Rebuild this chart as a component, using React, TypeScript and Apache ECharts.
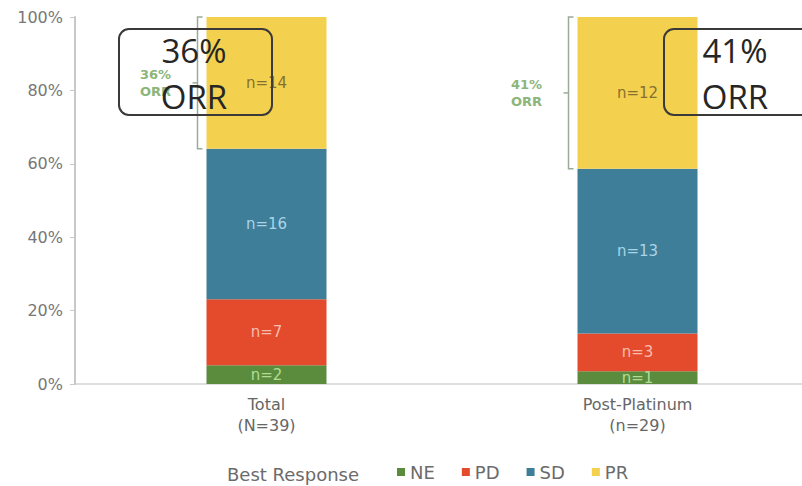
import React, { useEffect, useRef } from "react";
import * as echarts from "echarts";

// Best response counts per cohort
const categories = ["Total", "Post-Platinum"];
const cohortSizeLabels = ["(N=39)", "(n=29)"];
const responses = ["NE", "PD", "SD", "PR"];
const neCounts = [2, 1];
const pdCounts = [7, 3];
const sdCounts = [16, 13];
const prCounts = [14, 12];
const yMin = 0;
const yMax = 100;
const yInterval = 20;

const colors: Record<string, string> = {
  NE: "#5b8c3e",
  PD: "#e34b2c",
  SD: "#3e7e98",
  PR: "#f3d04e",
};
const labelColors: Record<string, string> = {
  NE: "#b2dc95",
  PD: "#f7bcae",
  SD: "#a9d3e6",
  PR: "#85702e",
};

const countsByResponse: Record<string, number[]> = {
  NE: neCounts,
  PD: pdCounts,
  SD: sdCounts,
  PR: prCounts,
};

const totals = categories.map(
  (_, i) => neCounts[i] + pdCounts[i] + sdCounts[i] + prCounts[i]
);

const FONT = "DejaVu Sans";
const BAR_WIDTH = 120;

export default function App() {
  const ref = useRef<HTMLDivElement>(null);

  useEffect(() => {
    if (!ref.current) return;
    const chart = echarts.init(ref.current, undefined, { renderer: "svg" });

    const series = responses.map((r) => ({
      name: r,
      type: "bar",
      stack: "resp",
      barWidth: BAR_WIDTH,
      itemStyle: { color: colors[r] },
      label: {
        show: true,
        position: "inside",
        fontFamily: FONT,
        fontSize: 15,
        color: labelColors[r],
        formatter: (p: any) => `n=${countsByResponse[r][p.dataIndex]}`,
      },
      data: countsByResponse[r].map((c, i) => (c / totals[i]) * 100),
    }));

    chart.setOption({
      animation: false,
      grid: {
        left: 81,
        right: -21,
        top: 17,
        bottom: 102,
        containLabel: false,
        outerBoundsMode: "none",
      },
      legend: {
        data: responses,
        icon: "rect",
        itemWidth: 8,
        itemHeight: 8,
        itemGap: 27,
        left: 397,
        top: 463,
        padding: 0,
        textStyle: { fontFamily: FONT, fontSize: 18, color: "#6b6b6b" },
      },
      xAxis: {
        type: "category",
        data: categories,
        axisTick: { show: false },
        axisLine: { lineStyle: { color: "#dedede", width: 2 } },
        axisLabel: {
          fontFamily: FONT,
          fontSize: 16,
          color: "#666",
          lineHeight: 21,
          margin: 10,
          formatter: (v: string, i: number) => `${v}\n${cohortSizeLabels[i]}`,
        },
      },
      yAxis: {
        type: "value",
        min: yMin,
        max: yMax,
        interval: yInterval,
        offset: 6,
        splitLine: { show: false },
        axisLine: { show: true, lineStyle: { color: "#c8c8c8", width: 2 } },
        axisTick: { show: true, length: 5, lineStyle: { color: "#c8c8c8" } },
        axisLabel: {
          fontFamily: FONT,
          fontSize: 16,
          color: "#777",
          margin: 12,
          formatter: "{value}%",
        },
      },
      series,
    });

    // ORR brackets spanning the PR segment of each bar
    const graphics: any[] = [];
    categories.forEach((_, i) => {
      const orr = Math.round((prCounts[i] / totals[i]) * 100);
      const below = ((neCounts[i] + pdCounts[i] + sdCounts[i]) / totals[i]) * 100;
      const top = chart.convertToPixel({ xAxisIndex: 0, yAxisIndex: 0 }, [i, 100]);
      const bottom = chart.convertToPixel({ xAxisIndex: 0, yAxisIndex: 0 }, [i, below]);
      const bx = top[0] - BAR_WIDTH / 2 - 9;
      const mid = (top[1] + bottom[1]) / 2;
      graphics.push({
        type: "polyline",
        z: 50,
        shape: {
          points: [
            [bx + 5, top[1]],
            [bx, top[1]],
            [bx, bottom[1]],
            [bx + 5, bottom[1]],
          ],
        },
        style: { stroke: "#9aab98", lineWidth: 1.5, fill: null },
      });
      graphics.push({
        type: "line",
        z: 50,
        shape: { x1: bx, y1: mid, x2: bx - 5, y2: mid },
        style: { stroke: "#9aab98", lineWidth: 1.5 },
      });
      graphics.push({
        type: "text",
        z: 50,
        x: bx - 42,
        y: mid,
        style: {
          text: `${orr}%\nORR`,
          fontFamily: FONT,
          fontSize: 13,
          fontWeight: "bold",
          lineHeight: 17,
          fill: "#8db57a",
          align: "center",
          verticalAlign: "middle",
        },
      });
    });

    // short stretch of baseline between the y axis and the grid edge
    const origin = chart.convertToPixel({ yAxisIndex: 0 }, 0) as unknown as number;
    graphics.push({
      type: "line",
      shape: { x1: 75, y1: origin, x2: 82, y2: origin },
      style: { stroke: "#dedede", lineWidth: 2 },
    });

    // Callout boxes with the ORR figures
    const boxes = [
      { x: 119, w: 153, cx: 194 },
      { x: 664, w: 160, cx: 735 },
    ];
    boxes.forEach((b, i) => {
      const orr = Math.round((prCounts[i] / totals[i]) * 100);
      graphics.push({
        type: "rect",
        z: 100,
        shape: { x: b.x, y: 29, width: b.w, height: 86, r: 10 },
        style: { fill: null, stroke: "#3a3a3a", lineWidth: 2 },
      });
      graphics.push({
        type: "text",
        z: 100,
        x: b.cx,
        y: 50,
        style: {
          text: `${orr}%`,
          fontFamily: "Open Sans",
          fontSize: 33,
          fill: "#262626",
          align: "center",
          verticalAlign: "middle",
        },
      });
      graphics.push({
        type: "text",
        z: 100,
        x: b.cx,
        y: 96,
        style: {
          text: "ORR",
          fontFamily: "Open Sans",
          fontSize: 33,
          fill: "#262626",
          align: "center",
          verticalAlign: "middle",
        },
      });
    });

    graphics.push({
      type: "text",
      x: 227,
      y: 474,
      style: {
        text: "Best Response",
        fontFamily: FONT,
        fontSize: 18,
        fill: "#6b6b6b",
        align: "left",
        verticalAlign: "middle",
      },
    });

    chart.setOption({ graphic: graphics });

    return () => chart.dispose();
  }, []);

  return (
    <div
      ref={ref}
      style={{ position: "absolute", left: 0, top: 0, width: 802, height: 486, background: "#fff" }}
    />
  );
}
